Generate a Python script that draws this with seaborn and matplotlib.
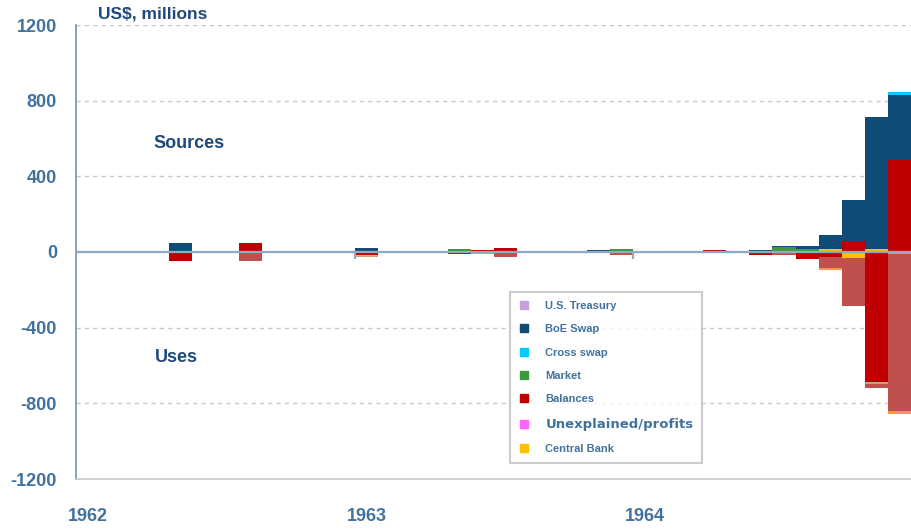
import numpy as np
import pandas as pd
import matplotlib.pyplot as plt
import seaborn as sns
from matplotlib.lines import Line2D

# monthly flows, Jan 1962 .. Dec 1964 (US$ millions)
months = pd.period_range('1962-01', '1964-12', freq='M').strftime('%Y-%m').tolist()
year_labels = ['1962', '1963', '1964']

def monthly(vals):
    s = [0.0] * 36
    for i, v in vals.items():
        s[i] = v
    return s

us_treasury = monthly({15: -3, 20: -2, 26: -3, 27: -5})
boe_swap = monthly({4: 50, 12: 23, 22: 8, 29: 10, 30: 5, 31: 18, 32: 76, 33: 215, 34: 694, 35: 345})
cross_swap = monthly({35: 16})
market = monthly({13: 3, 16: 14, 19: -2, 23: 14, 25: -2, 30: 25, 31: 14, 32: 7})
balances = monthly({4: -50, 7: 50, 12: -17, 13: -3, 16: -12, 17: 12, 18: 23, 23: -4, 27: 8,
                    29: -18, 30: -5, 31: -35, 32: -28, 33: 58, 34: -688, 35: 486})
unexplained = monthly({31: 2, 32: 2, 34: 3})
central_bank = monthly({12: -5, 17: -3, 22: -3, 32: 7, 33: -32, 34: 18})
# series drawn in the chart but not listed in its legend
residual = monthly({12: -3, 34: -9, 35: -10})
reserve_use = monthly({7: -50, 18: -26, 23: -10, 30: -13, 32: -58, 33: -253, 34: -23, 35: -828})
adjustment = monthly({17: -6, 32: -9, 35: -16})

df = pd.DataFrame({
    'U.S. Treasury': us_treasury, 'BoE Swap': boe_swap, 'Cross swap': cross_swap,
    'Market': market, 'Balances': balances, 'Unexplained/profits': unexplained,
    'Central Bank': central_bank, 'residual': residual, 'reserve_use': reserve_use,
    'adjustment': adjustment}, index=months)

colors = {'U.S. Treasury': '#C6A0DC', 'BoE Swap': '#0F4D78', 'Cross swap': '#00CCFF',
          'Market': '#3A9A3A', 'Balances': '#C00000', 'Unexplained/profits': '#FF66FF',
          'Central Bank': '#FFC000', 'residual': '#C4A47C', 'reserve_use': '#C0504D',
          'adjustment': '#F79646'}
legend_order = ['U.S. Treasury', 'BoE Swap', 'Cross swap', 'Market', 'Balances',
                'Unexplained/profits', 'Central Bank']
pos_order = ['Balances', 'Market', 'Central Bank', 'U.S. Treasury', 'BoE Swap',
             'Cross swap', 'Unexplained/profits']
neg_order = ['Balances', 'Market', 'U.S. Treasury', 'Central Bank', 'residual',
             'reserve_use', 'adjustment']

sns.set_style('white')
plt.rcParams['font.family'] = ['Liberation Sans', 'DejaVu Sans']
plt.rcParams['axes.unicode_minus'] = False
tick_col = '#41729F'
title_col = '#1F497D'

fig = plt.figure(figsize=(9.12, 5.29), dpi=100)
ax = fig.add_axes([76.4 / 912, 50 / 529, 835.2 / 912, 454 / 529])

x = np.arange(len(months))
pos = df.clip(lower=0)[pos_order].cumsum(axis=1)
neg = df.clip(upper=0)[neg_order].cumsum(axis=1)
for stack, order in [(pos, pos_order), (neg, neg_order)]:
    for col in order[::-1]:
        sns.barplot(x=x, y=stack[col].values, color=colors[col], width=1.0,
                    saturation=1, errorbar=None, linewidth=0, ax=ax)

ax.set_xlim(-0.5, 35.5)
ax.set_ylim(-1200, 1200)
ax.set_yticks(np.arange(-1200, 1201, 400))
ax.set_xticks([0, 12, 24])
ax.set_xticklabels(year_labels)
ax.tick_params(axis='x', length=0, pad=21, labelsize=13, labelcolor=tick_col)
ax.tick_params(axis='y', length=0, pad=14, labelsize=13, labelcolor=tick_col)
for t in ax.get_xticklabels() + ax.get_yticklabels():
    t.set_fontweight('bold')
ax.set_xlabel('')
ax.set_ylabel('')

ax.yaxis.grid(True, color='#C8C8C8', linestyle=(0, (3, 3)), linewidth=1)
ax.xaxis.grid(False)
ax.set_axisbelow(True)
ax.axhline(0, color='#8FAAC2', lw=1.6, zorder=5)
ax.vlines([11.5, 23.5], -35, 0, color='#8FAAC2', lw=1.6, zorder=5)

for s in ['top', 'right']:
    ax.spines[s].set_visible(False)
ax.spines['left'].set_color('#6D93B5')
ax.spines['left'].set_linewidth(1.2)
ax.spines['bottom'].set_color('#C8C8C8')
ax.spines['bottom'].set_linewidth(1.2)

ax.text(0.43, 1257, 'US$, millions', fontsize=12.5, fontweight='bold', color=title_col,
        va='center', ha='left', clip_on=False)
ax.text(2.8, 576, 'Sources', fontsize=13, fontweight='bold', color=title_col, va='center')
ax.text(2.9, -560, 'Uses', fontsize=13, fontweight='bold', color=title_col, va='center')

handles = [Line2D([], [], marker='s', linestyle='', markersize=6, markerfacecolor=colors[c],
                  markeredgecolor=colors[c], label=c) for c in legend_order]
leg = ax.legend(handles=handles, loc='upper left', bbox_to_anchor=(0.519, 0.412),
                borderaxespad=0, frameon=True, fancybox=False, fontsize=8,
                labelspacing=1.2, handletextpad=1.4, borderpad=0.8, handlelength=1.0)
leg.get_frame().set_edgecolor('#BFBFBF')
leg.get_frame().set_linewidth(1.5)
for t in leg.get_texts():
    t.set_color(tick_col)
    t.set_fontweight('bold')
    if t.get_text() == 'Unexplained/profits':
        t.set_fontsize(9.5)
        t.set_family(['DejaVu Sans'])

fig.savefig('out.png', dpi=100)
